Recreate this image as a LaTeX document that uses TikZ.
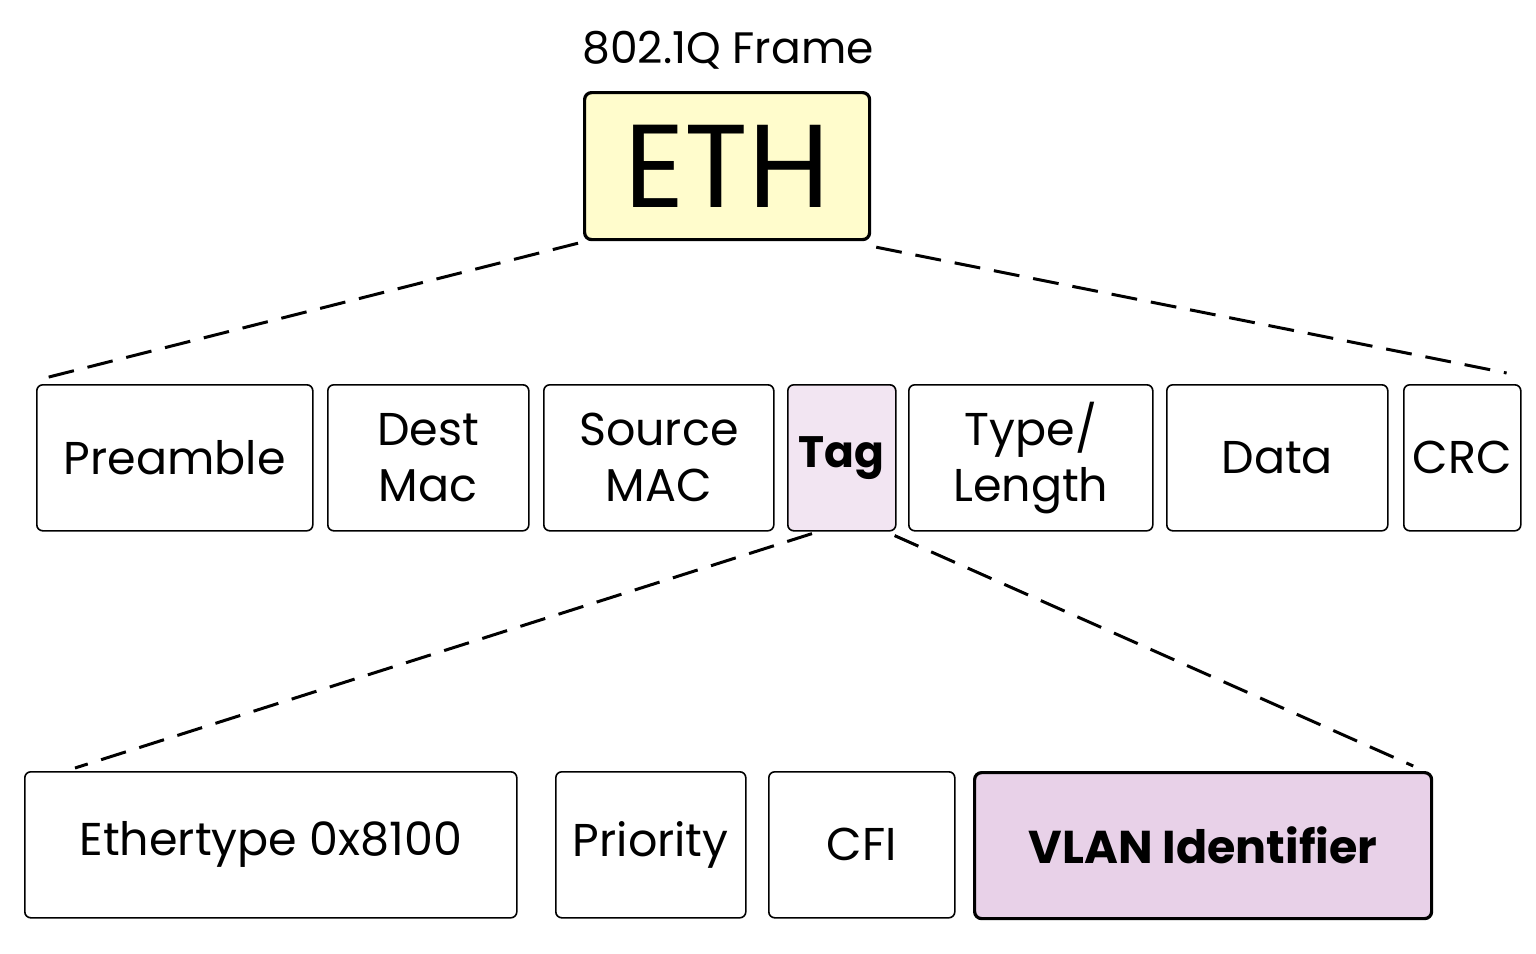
\documentclass[tikz,border=0pt]{standalone}
\usepackage{fontspec}
\setmainfont{Poppins}
\usetikzlibrary{calc}
\begin{document}
\begin{tikzpicture}[x=1pt,y=-1pt,
  box/.style={draw=black,line width=1.6pt,rounded corners=6pt,inner sep=0pt},
  hbox/.style={draw=black,line width=3.2pt,rounded corners=7pt,inner sep=0pt},
  lbl/.style={font=\fontsize{46}{52}\selectfont,align=center},
  dline/.style={line width=3pt,dash pattern=on 26pt off 14pt}]
\useasboundingbox (0,0) rectangle (1536,953);
\newcommand{\bx}[6]{\node[#1,minimum width=#4-#3,minimum height=146,anchor=north west,fill=#6] (#2) at (#3,#5) {};}
% ETH
\node[hbox,fill=yellow!20!white,minimum width=285,minimum height=147,anchor=north west] (eth) at (583,91) {};
\node[font=\fontsize{118}{120}\selectfont] at (eth.center) {ETH};
\node[font=\fontsize{44}{50}\selectfont] (title) at (728,50) {802.1Q Frame};
% row 2
\bx{box}{pre}{36}{312}{384}{white}
\bx{box}{dst}{327}{528}{384}{white}
\bx{box}{src}{543}{773}{384}{white}
\bx{box}{tag}{787}{895}{384}{violet!10!white}
\bx{box}{typ}{908}{1152}{384}{white}
\bx{box}{dat}{1166}{1387}{384}{white}
\bx{box}{crc}{1403}{1520}{384}{white}
\node[lbl] at (pre.center) {Preamble};
\node[lbl,font=\fontsize{46}{56}\selectfont] at (dst.center) {Dest\\Mac};
\node[lbl,font=\fontsize{46}{56}\selectfont] at (src.center) {Source\\MAC};
\node[lbl,font=\bfseries\fontsize{44}{52}\selectfont] at (tag.center) {Tag};
\node[lbl,font=\fontsize{46}{56}\selectfont] at (typ.center) {Type/\\Length};
\node[lbl] at (dat.center) {Data};
\node[lbl] at (crc.center) {CRC};
% row 3
\bx{box}{eth3}{24}{516}{771}{white}
\bx{box}{pri}{555}{745}{771}{white}
\bx{box}{cfi}{768}{954}{771}{white}
\node[hbox,fill=violet!18!white,minimum width=457,minimum height=146,anchor=north west] (vlan) at (973,771) {};
\node[lbl] at (eth3.center) {Ethertype 0x8100};
\node[lbl] at (pri.center) {Priority};
\node[lbl] at (cfi.center) {CFI};
\node[lbl,font=\bfseries\fontsize{46}{52}\selectfont] at (vlan.center) {VLAN Identifier};
% connectors
\draw[dline] ($(eth.south west)+(-5,2)$) -- ($(pre.north west)+(9,-6)$);
\draw[dline] ($(eth.south east)+(5,6)$) -- ($(crc.north east)+(-15,-11)$);
\draw[dline] ($(tag.south west)+(25,2)$) -- ($(eth3.north west)+(51,-3)$);
\draw[dline] ($(tag.south east)+(-2,4)$) -- ($(vlan.north east)+(-20,-5)$);
\end{tikzpicture}
\end{document}
